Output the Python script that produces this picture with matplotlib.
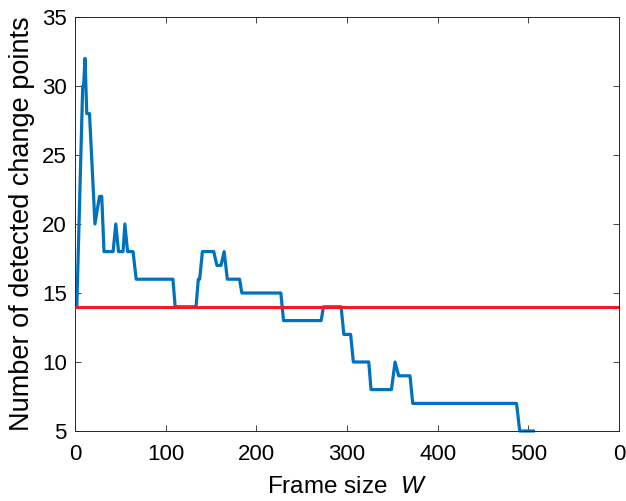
import matplotlib
matplotlib.use("Agg")
import matplotlib.pyplot as plt

# Data (vertices of the blue step-like curve)
frame_size = [2, 8.5, 9.5, 11, 13, 16, 22, 27, 29.5, 32,
              42, 45, 48, 53, 55, 58, 64, 67.5, 108, 110.5,
              133.5, 136, 137.5, 140.5, 153, 156.5, 161, 164.5, 168, 181.5,
              184, 227, 230, 271.5, 274, 293.5, 296.5, 304, 307, 324,
              326.5, 349, 353, 357, 369.5, 372.5, 487, 490.5, 505.5]
n_points = [14, 30, 30, 32, 28, 28, 20, 22, 22, 18,
            18, 20, 18, 18, 20, 18, 18, 16, 16, 14,
            14, 16, 16, 18, 18, 17, 17, 18, 16, 16,
            15, 15, 13, 13, 14, 14, 12, 12, 10, 10,
            8, 8, 10, 9, 9, 7, 7, 5, 5]
reference_level = 14

x_ticks = [0, 100, 200, 300, 400, 500, 600]
x_tick_labels = ["0", "100", "200", "300", "400", "500", "0"]
y_ticks = [5, 10, 15, 20, 25, 30, 35]

plt.rcParams['font.family'] = ['Liberation Sans', 'DejaVu Sans']
plt.rcParams['mathtext.fontset'] = 'custom'
plt.rcParams['mathtext.rm'] = 'Liberation Sans'
plt.rcParams['mathtext.it'] = 'Liberation Sans:italic'

fig = plt.figure(figsize=(6.26, 5.01), dpi=100)
ax = fig.add_axes([75/626, 1 - 431/501, 544/626, 414/501])

ax.plot(frame_size, n_points, color='#0072BD', lw=2.3, zorder=2, clip_on=False)
ax.axhline(reference_level, color='#ee1c25', lw=2.2, zorder=3)

ax.set_xlim(0, 600)
ax.set_ylim(5, 35)
ax.set_xticks(x_ticks)
ax.set_xticklabels(x_tick_labels)
ax.set_yticks(y_ticks)

ax.tick_params(direction='in', length=4, width=0.6, top=True, right=True,
               labelsize=16, colors='#262626', labelcolor='black')
ax.tick_params(axis='x', pad=9)
ax.tick_params(axis='y', pad=6)
for s in ax.spines.values():
    s.set_linewidth(0.7)
    s.set_color('#262626')

ax.set_xlabel('Frame size  $\\mathit{W}$', fontsize=17.5, labelpad=8)
ax.set_ylabel('Number of detected change points', fontsize=19.5, labelpad=5)

fig.savefig('out.png', dpi=100)
